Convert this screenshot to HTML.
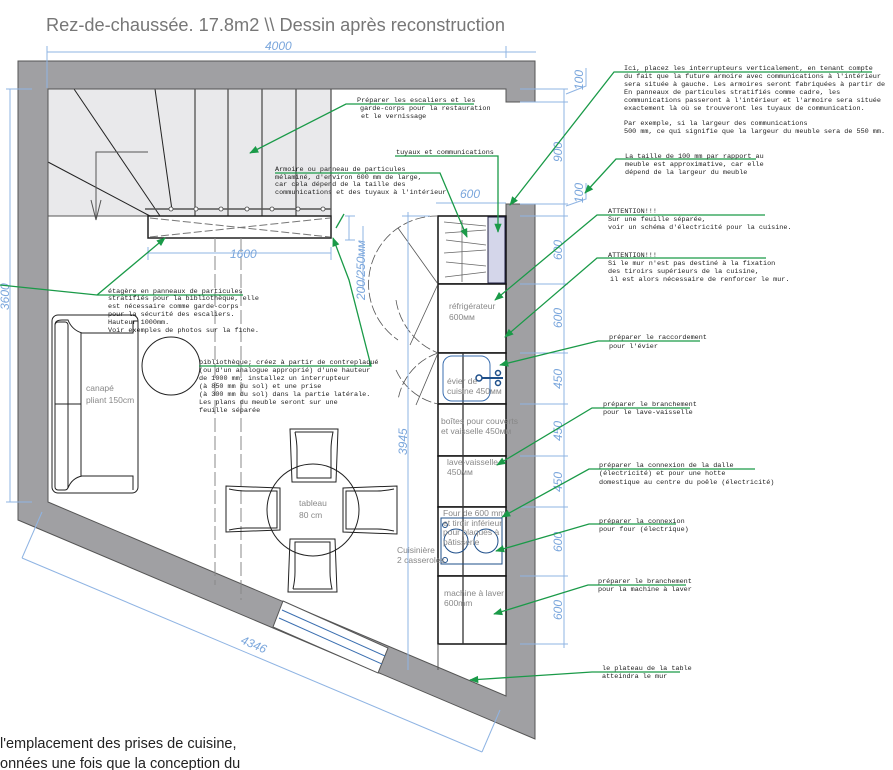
<!DOCTYPE html>
<html><head><meta charset="utf-8"><style>
html,body{margin:0;padding:0;background:#fff;}
svg{display:block;}
.t{font-family:"Liberation Mono",monospace;font-size:6.8px;fill:#222;}
.g{font-family:"Liberation Sans",sans-serif;font-size:8.5px;fill:#888;}
.d{font-family:"Liberation Sans",sans-serif;font-size:12px;fill:#7aa6dc;font-style:italic;}
</style></head><body>
<svg width="893" height="770" viewBox="0 0 893 770" xmlns="http://www.w3.org/2000/svg">
<defs>
<marker id="a" viewBox="0 0 10 10" refX="9" refY="5" markerWidth="9" markerHeight="7" orient="auto-start-reverse"><path d="M0,1 L10,5 L0,9 Z" fill="#1a9a48"/></marker>
</defs>
<text x="46" y="31" font-family="Liberation Sans,sans-serif" font-size="18.2" fill="#777">Rez-de-chaussée. 17.8m2  \\ Dessin après reconstruction</text>

<!-- stairs -->
<rect x="48" y="89" width="283" height="127" fill="#e9e9eb"/>
<g stroke="#222" stroke-width="1" fill="none">
<line x1="195" y1="89" x2="195" y2="216"/><line x1="228" y1="89" x2="228" y2="216"/><line x1="262" y1="89" x2="262" y2="216"/><line x1="296" y1="89" x2="296" y2="216"/><line x1="331" y1="89" x2="331" y2="238"/>
<line x1="74" y1="89" x2="160" y2="216"/><line x1="155" y1="89" x2="172" y2="210"/><line x1="48" y1="162" x2="150" y2="216"/>
<line x1="48" y1="216" x2="148" y2="216" stroke="#555"/>
<line x1="145" y1="209" x2="331" y2="209" stroke="#555" stroke-width="1.5"/>
<rect x="148" y="216" width="183" height="22" stroke-width="1.5"/>
<line x1="150" y1="218" x2="330" y2="237" stroke="#777" stroke-dasharray="8,3"/><line x1="150" y1="237" x2="330" y2="218" stroke="#777" stroke-dasharray="8,3"/>
<polyline points="148,152 96,152 96,220" stroke="#555"/><polyline points="91,200 96,220 101,200" stroke="#555"/>
</g>
<g fill="#fff" stroke="#444" stroke-width="0.8">
<circle cx="171" cy="209" r="2"/><circle cx="196" cy="209" r="2"/><circle cx="221" cy="209" r="2"/><circle cx="247" cy="209" r="2"/><circle cx="272" cy="209" r="2"/><circle cx="298" cy="209" r="2"/><circle cx="323" cy="209" r="2"/>
</g>
<!-- walls -->
<path d="M18,61 L535,61 L535,739 L18,520 Z M48,89 L48,502 L506,696 L506,204 L535,204 L535,102 L506,102 L506,89 Z" fill="#a0a0a3" fill-rule="evenodd" stroke="#555" stroke-width="1"/>
<rect x="506" y="102" width="30" height="102" fill="#fff"/>
<line x1="506" y1="102" x2="535" y2="102" stroke="#555"/><line x1="506" y1="204" x2="535" y2="204" stroke="#555"/>
<!-- window -->
<polygon points="283,601 388,648 378,673 273,627" fill="#fff" stroke="#555"/>
<line x1="282" y1="610" x2="385" y2="656" stroke="#3b6fb0"/><line x1="279" y1="618" x2="382" y2="664" stroke="#3b6fb0"/>
<!-- dashed lines -->
<line x1="215" y1="238" x2="215" y2="585" stroke="#888" stroke-dasharray="14,4"/>
<line x1="241" y1="238" x2="241" y2="600" stroke="#888" stroke-dasharray="14,4"/>
<!-- kitchen -->
<g stroke="#111" stroke-width="1.5" fill="#fff">
<rect x="438" y="216" width="68" height="68"/>
<rect x="438" y="284" width="68" height="69"/>
<rect x="438" y="353" width="68" height="51"/>
<rect x="438" y="404" width="68" height="52"/>
<rect x="438" y="456" width="68" height="51"/>
<rect x="438" y="507" width="68" height="69"/>
<rect x="438" y="576" width="68" height="68"/>
</g>
<rect x="488" y="217" width="17" height="66" fill="#d4d6ea" stroke="#224" stroke-width="1"/>
<g stroke="#666" stroke-width="0.8"><line x1="462" y1="220" x2="462" y2="282"/><line x1="444" y1="222" x2="486" y2="226"/><line x1="445" y1="233" x2="486" y2="230"/><line x1="446" y1="240" x2="486" y2="245"/><line x1="444" y1="253" x2="486" y2="250"/><line x1="446" y1="262" x2="486" y2="266"/><line x1="445" y1="277" x2="486" y2="272"/></g>
<line x1="463" y1="353" x2="463" y2="644" stroke="#333" stroke-width="1.3"/>
<line x1="438" y1="644" x2="438" y2="670" stroke="#555"/>
<rect x="443" y="356" width="47" height="45" rx="9" fill="none" stroke="#3b6fb0"/>
<circle cx="479" cy="378" r="3" fill="none" stroke="#1e4f8a" stroke-width="1.5"/><line x1="482" y1="378" x2="503" y2="378" stroke="#1e4f8a" stroke-width="2"/><circle cx="498" cy="373" r="2.5" fill="none" stroke="#1e4f8a" stroke-width="1.5"/><circle cx="498" cy="383" r="2.5" fill="none" stroke="#1e4f8a" stroke-width="1.5"/>
<rect x="441" y="518" width="61" height="46" fill="none" stroke="#1e4f8a"/>
<circle cx="456" cy="541" r="12" fill="none" stroke="#1e4f8a"/><circle cx="486" cy="541" r="12" fill="none" stroke="#1e4f8a"/>
<circle cx="445" cy="525" r="2.5" fill="none" stroke="#1e4f8a"/><circle cx="445" cy="560" r="2.5" fill="none" stroke="#1e4f8a"/>
<g stroke="#555" stroke-width="0.8" fill="none" stroke-dasharray="10,3">
<path d="M438,216 A68,68 0 0 0 398,340"/><path d="M396,300 A68,68 0 0 0 438,353"/>
<path d="M438,353 A60,60 0 0 0 398,400"/><path d="M396,370 A60,60 0 0 0 438,404"/>
</g>
<g stroke="#555" stroke-width="0.8"><line x1="438" y1="284" x2="398" y2="228"/><line x1="438" y1="284" x2="410" y2="345"/><line x1="438" y1="353" x2="416" y2="405"/></g>
<text class="g" x="449" y="309">réfrigérateur</text><text class="g" x="449" y="320">600мм</text>
<text class="g" x="447" y="384">évier de</text><text class="g" x="447" y="394">cuisine 450мм</text>
<text class="g" x="441" y="424">boîtes pour couverts</text><text class="g" x="441" y="434">et vaisselle 450мм</text>
<text class="g" x="447" y="465">lave-vaisselle</text><text class="g" x="447" y="475">450мм</text>
<text class="g" x="443" y="516">Four de 600 mm</text><text class="g" x="443" y="526">et tiroir inférieur</text><text class="g" x="443" y="535">pour plaques à</text><text class="g" x="443" y="545">pâtisserie</text>
<text class="g" x="397" y="553">Cuisinière</text><text class="g" x="397" y="563">2 casseroles</text>
<text class="g" x="444" y="596">machine à laver</text><text class="g" x="444" y="606">600mm</text>
<!-- sofa -->
<g stroke="#222" stroke-width="1" fill="none">
<rect x="52" y="315" width="86" height="178" rx="6"/>
<path d="M55,325 Q55,320 62,320 L68,320 Q72,330 82,333 L133,333 L133,321 L138,321"/>
<rect x="55" y="322" width="13" height="168" rx="3"/>
<line x1="81" y1="333" x2="81" y2="476"/>
<path d="M68,488 Q72,478 82,476 L133,476 L133,490"/>
<line x1="55" y1="404" x2="81" y2="404"/>
</g>
<text class="g" x="86" y="391" font-size="10">canapé</text><text class="g" x="86" y="403" font-size="10">pliant 150cm</text>
<circle cx="171" cy="366" r="29" fill="none" stroke="#222"/>
<!-- table chairs -->
<g stroke="#222" stroke-width="1" fill="none">
<path d="M290,429 L338,429 L336,482 L292,482 Z"/><path d="M295,432 L333,432 Q331,442 331,450 L331,478 L297,478 L297,450 Q297,442 295,432"/>
<path d="M288,592 L337,592 L335,539 L290,539 Z"/><path d="M293,589 L332,589 Q330,580 330,572 L330,542 L295,542 L295,572 Q295,580 293,589"/>
<path d="M226,486 L226,532 L280,530 L280,488 Z"/><path d="M229,489 Q238,491 246,491 L277,491 L277,528 L246,528 Q238,528 229,530"/>
<path d="M397,486 L397,534 L343,532 L343,488 Z"/><path d="M394,489 Q385,491 377,491 L346,491 L346,529 L377,529 Q385,529 394,531"/>
<circle cx="313" cy="510" r="46"/>
</g>
<text class="g" x="299" y="506" font-size="10">tableau</text><text class="g" x="299" y="518" font-size="10">80 cm</text>
<!-- dimensions -->
<g stroke="#8fb4e3" stroke-width="1" fill="none">
<line x1="47" y1="52" x2="536" y2="52"/><line x1="47" y1="46" x2="47" y2="88"/><line x1="506" y1="46" x2="506" y2="58"/>
<line x1="10" y1="89" x2="10" y2="502"/><line x1="6" y1="89" x2="32" y2="89"/><line x1="6" y1="502" x2="32" y2="502"/>
<line x1="148" y1="253" x2="331" y2="253"/><line x1="148" y1="247" x2="148" y2="260"/><line x1="331" y1="247" x2="331" y2="260"/>
<line x1="349" y1="216" x2="349" y2="240"/><line x1="345" y1="216" x2="355" y2="216"/><line x1="345" y1="240" x2="355" y2="240"/>
<line x1="363" y1="226" x2="363" y2="290"/>
<line x1="436" y1="203" x2="506" y2="203"/>
<line x1="408" y1="212" x2="408" y2="670"/><line x1="402" y1="216" x2="430" y2="216"/>
<line x1="564" y1="89" x2="564" y2="648"/>
<line x1="22" y1="558" x2="482" y2="752"/><line x1="22" y1="558" x2="42" y2="512"/><line x1="482" y1="752" x2="500" y2="710"/>
</g>
<g stroke="#8fb4e3" stroke-width="1">
<line x1="520" y1="89" x2="568" y2="89"/><line x1="520" y1="102" x2="568" y2="102"/><line x1="520" y1="204" x2="568" y2="204"/><line x1="520" y1="216" x2="568" y2="216"/><line x1="520" y1="284" x2="568" y2="284"/><line x1="520" y1="353" x2="568" y2="353"/><line x1="520" y1="404" x2="568" y2="404"/><line x1="520" y1="456" x2="568" y2="456"/><line x1="520" y1="507" x2="568" y2="507"/><line x1="520" y1="576" x2="568" y2="576"/><line x1="520" y1="644" x2="568" y2="644"/>
<polyline points="566,94 586,86 586,68" fill="none"/><polyline points="566,206 586,199 586,183" fill="none"/>
</g>
<text class="d" x="265" y="50">4000</text>
<text class="d" x="230" y="258">1600</text>
<text class="d" x="460" y="198">600</text>
<text class="d" transform="translate(9,310) rotate(-90)">3600</text>
<text class="d" transform="translate(365,300) rotate(-90)" font-size="11">200/250мм</text>
<text class="d" transform="translate(407,455) rotate(-90)">3945</text>
<text class="d" transform="translate(583,90) rotate(-90)" font-size="11">100</text>
<text class="d" transform="translate(562,162) rotate(-90)">900</text>
<text class="d" transform="translate(583,203) rotate(-90)" font-size="11">100</text>
<text class="d" transform="translate(562,260) rotate(-90)">600</text>
<text class="d" transform="translate(562,328) rotate(-90)">600</text>
<text class="d" transform="translate(562,389) rotate(-90)">450</text>
<text class="d" transform="translate(562,441) rotate(-90)">450</text>
<text class="d" transform="translate(562,492) rotate(-90)">450</text>
<text class="d" transform="translate(562,552) rotate(-90)">600</text>
<text class="d" transform="translate(562,620) rotate(-90)">600</text>
<text class="d" transform="translate(240,643) rotate(23)">4346</text>
<!-- green leaders -->
<g stroke="#1a9a48" stroke-width="1.3" fill="none">
<polyline points="474,104 346,104 250,153" marker-end="url(#a)"/>
<polyline points="395,156 498,156 498,232" marker-end="url(#a)"/>
<polyline points="275,173 440,173 467,237" marker-end="url(#a)"/>
<polyline points="872,72 614,72 510,205" marker-end="url(#a)"/>
<polyline points="756,159 616,159 585,193" marker-end="url(#a)"/>
<polyline points="765,215 597,215 495,300" marker-end="url(#a)"/>
<polyline points="766,258 597,258 505,337" marker-end="url(#a)"/>
<polyline points="700,341 598,341 500,365" marker-end="url(#a)"/>
<polyline points="690,408 592,408 497,465" marker-end="url(#a)"/>
<polyline points="755,469 589,469 502,517" marker-end="url(#a)"/>
<polyline points="676,524 589,524 496,551" marker-end="url(#a)"/>
<polyline points="686,585 588,585 494,614" marker-end="url(#a)"/>
<polyline points="680,672 592,672 470,680" marker-end="url(#a)"/>
<polyline points="0,285 97,295 243,295"/><line x1="97" y1="295" x2="165" y2="238" marker-end="url(#a)"/>
<polyline points="199,366 371,366 349,280 333,238" marker-end="url(#a)"/>
<polyline points="336,228 344,214"/>
</g>
<!-- annotation texts -->
<g class="t">
<text x="357" y="102">Préparer les escaliers et les</text><text x="360" y="110">garde-corps pour la restauration</text><text x="361" y="118">et le vernissage</text>
<text x="396" y="154">tuyaux et communications</text>
<text x="275" y="171">Armoire ou panneau de particules</text><text x="275" y="179">mélaminé, d'environ 600 mm de large,</text><text x="275" y="186">car cela dépend de la taille des</text><text x="275" y="194">communications et des tuyaux à l'intérieur</text>
<text x="624" y="70">Ici, placez les interrupteurs verticalement, en tenant compte</text><text x="624" y="78">du fait que la future armoire avec communications à l'intérieur</text><text x="624" y="86">sera située à gauche. Les armoires seront fabriquées à partir de</text><text x="624" y="94">En panneaux de particules stratifiés comme cadre, les</text><text x="624" y="102">communications passeront à l'intérieur et l'armoire sera située</text><text x="624" y="110">exactement là où se trouveront les tuyaux de communication.</text>
<text x="624" y="125">Par exemple, si la largeur des communications</text><text x="624" y="133">500 mm, ce qui signifie que la largeur du meuble sera de 550 mm.</text>
<text x="625" y="158">La taille de 100 mm par rapport au</text><text x="625" y="166">meuble est approximative, car elle</text><text x="625" y="174">dépend de la largeur du meuble</text>
<text x="608" y="213">ATTENTION!!!</text><text x="608" y="221">Sur une feuille séparée,</text><text x="608" y="229">voir un schéma d'électricité pour la cuisine.</text>
<text x="608" y="257">ATTENTION!!!</text><text x="608" y="265">Si le mur n'est pas destiné à la fixation</text><text x="608" y="273">des tiroirs supérieurs de la cuisine,</text><text x="610" y="281">il est alors nécessaire de renforcer le mur.</text>
<text x="609" y="339">préparer le raccordement</text><text x="609" y="348">pour l'évier</text>
<text x="603" y="406">préparer le branchement</text><text x="603" y="414">pour le lave-vaisselle</text>
<text x="599" y="467">préparer la connexion de la dalle</text><text x="599" y="475">(électricité) et pour une hotte</text><text x="599" y="484">domestique au centre du poêle (électricité)</text>
<text x="599" y="523">préparer la connexion</text><text x="599" y="531">pour four (électrique)</text>
<text x="598" y="583">préparer le branchement</text><text x="598" y="591">pour la machine à laver</text>
<text x="602" y="670">le plateau de la table</text><text x="602" y="678">atteindra le mur</text>
<text x="108" y="293">étagère en panneaux de particules</text><text x="108" y="300">stratifiés pour la bibliothèque, elle</text><text x="108" y="308">est nécessaire comme garde-corps</text><text x="108" y="316">pour la sécurité des escaliers.</text><text x="108" y="324">Hauteur 1000mm.</text><text x="108" y="332">Voir exemples de photos sur la fiche.</text>
<text x="199" y="364">bibliothèque; créez à partir de  contreplaqué</text><text x="199" y="372">(ou d'un analogue approprié)  d'une hauteur</text><text x="199" y="380">de 1000 mm,  installez un interrupteur</text><text x="199" y="388">(à 850 mm du sol) et une prise</text><text x="199" y="396">(à 300 mm du sol) dans la partie latérale.</text><text x="199" y="404">Les plans du meuble seront sur une</text><text x="199" y="412">feuille séparée</text>
</g>
<text x="0" y="748" font-family="Liberation Sans,sans-serif" font-size="14.5" fill="#222">l'emplacement des prises de cuisine,</text>
<text x="0" y="768" font-family="Liberation Sans,sans-serif" font-size="14.5" fill="#222">onnées une fois que la conception du</text>
</svg>
</body></html>
